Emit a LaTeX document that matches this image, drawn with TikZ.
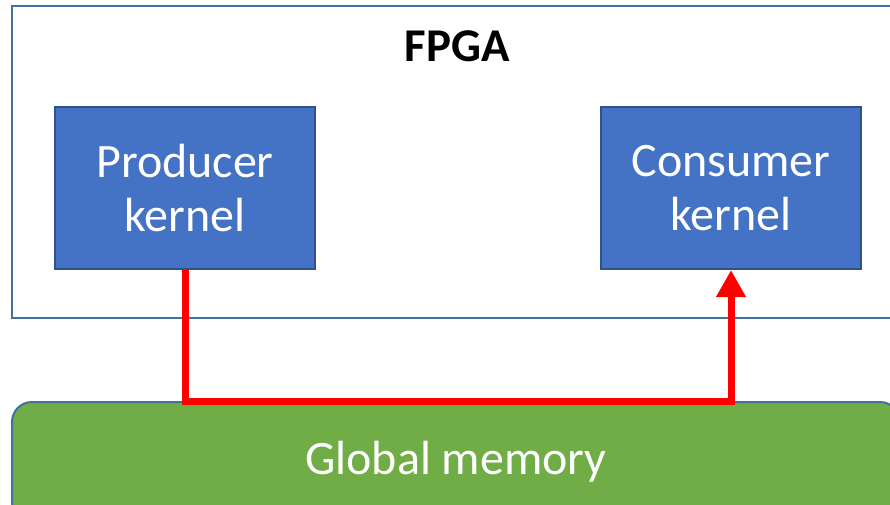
\documentclass[tikz,border=0pt]{standalone}
\usepackage{fontspec}
\setmainfont{Carlito}
\usetikzlibrary{arrows.meta}
\definecolor{kernelBlue}{HTML}{4472C4}
\definecolor{kernelEdge}{HTML}{2F528F}
\definecolor{frameBlue}{HTML}{41719C}
\definecolor{memGreen}{HTML}{70AD47}
\definecolor{flowRed}{HTML}{FF0000}

\begin{document}
\begin{tikzpicture}[x=1pt,y=-1pt,
  kernel/.style={draw=kernelEdge,line width=2pt,fill=kernelBlue,text=white,
    minimum width=260pt,minimum height=162pt,inner sep=0pt,align=center,
    font=\fontsize{48}{54}\selectfont},
  frame/.style={draw=frameBlue,line width=2pt,minimum width=888pt,inner sep=0pt},
  flow/.style={draw=flowRed,line width=7pt,line join=miter,-{Triangle[width=28pt,length=27pt]}}]
 \useasboundingbox (0,0) rectangle (890,504);
 \clip (0,0) rectangle (890,504);
 % FPGA
 \node[frame,minimum height=312pt] (fpga) at (456,162) {};
 \node[font=\bfseries\fontsize{47}{54}\selectfont] (fpgalabel) at (457,46) {FPGA};
 % Kernels
 \node[kernel] (prod) at (185,188) {Producer\\kernel};
 \node[kernel] (cons) at (731,188) {Consumer\\kernel};
 % Global memory
 \node[frame,fill=memGreen,rounded corners=20pt,minimum height=120pt,text=white,
   font=\fontsize{48}{54}\selectfont] (mem) at (456,462) {Global memory};
 % Data path
 \draw[flow] (prod.south) -- (prod.south |- mem.north) -- (cons.south |- mem.north) -- (cons.south);
\end{tikzpicture}
\end{document}
